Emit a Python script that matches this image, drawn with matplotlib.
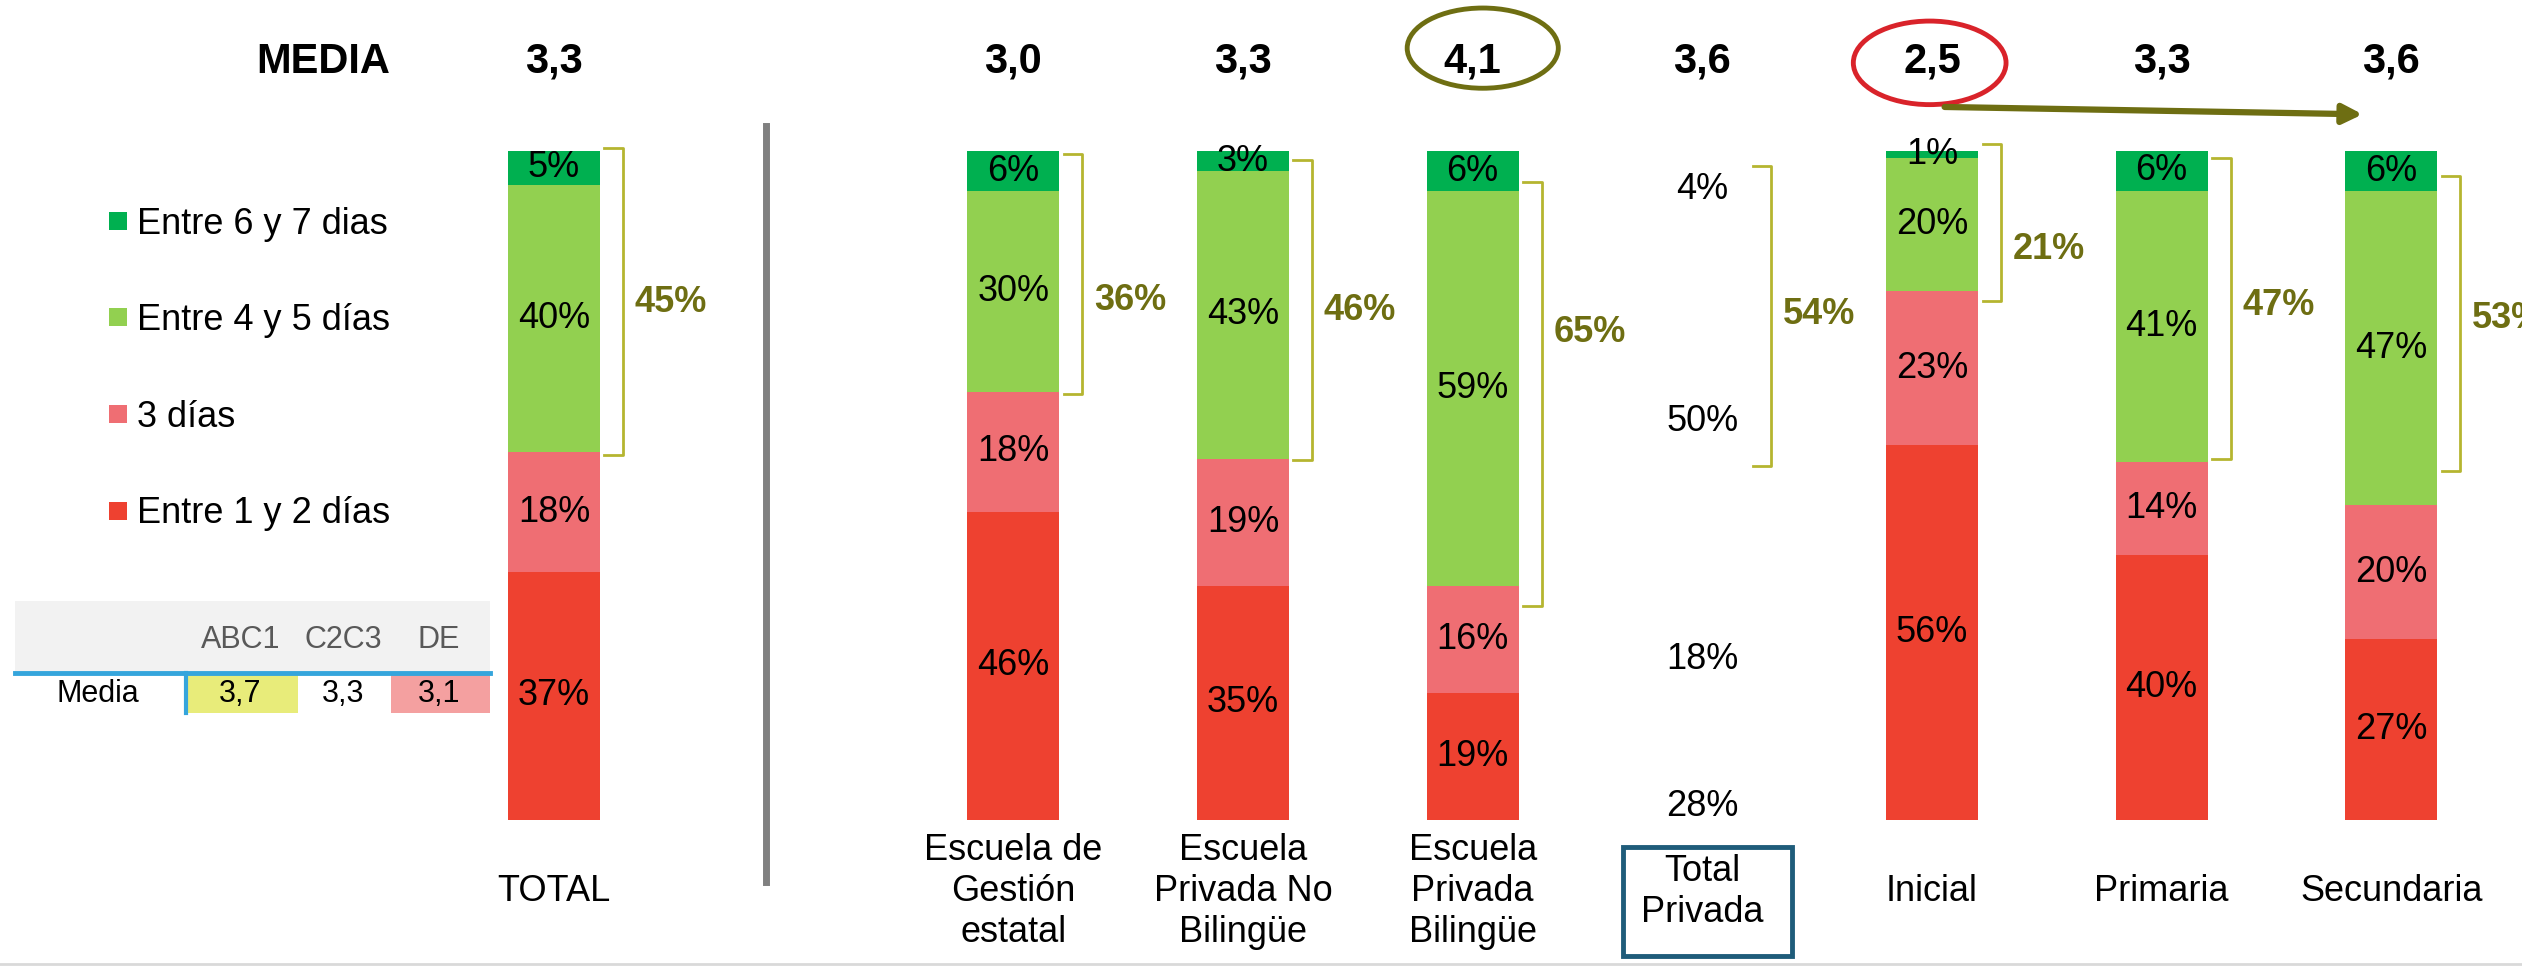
import matplotlib
matplotlib.use('Agg')
import matplotlib.pyplot as plt
from matplotlib.patches import Ellipse, Rectangle
from matplotlib.lines import Line2D

plt.rcParams['font.family'] = ['Liberation Sans', 'DejaVu Sans']

# datos
categorias = ['TOTAL', 'Escuela de\nGestión\nestatal', 'Escuela\nPrivada No\nBilingüe',
              'Escuela\nPrivada\nBilingüe', 'Total\nPrivada', 'Inicial', 'Primaria', 'Secundaria']
medias = ['3,3', '3,0', '3,3', '4,1', '3,6', '2,5', '3,3', '3,6']
series = ['Entre 1 y 2 días', '3 días', 'Entre 4 y 5 días', 'Entre 6 y 7 dias']
dias_1_2 = [37, 46, 35, 19, 28, 56, 40, 27]
dias_3 = [18, 18, 19, 16, 18, 23, 14, 20]
dias_4_5 = [40, 30, 43, 59, 50, 20, 41, 47]
dias_6_7 = [5, 6, 3, 6, 4, 1, 6, 6]
top2 = [45, 36, 46, 65, 54, 21, 47, 53]

nse = ['ABC1', 'C2C3', 'DE']
media_nse = ['3,7', '3,3', '3,1']

# layout
xpos = [0, 2, 3, 4, 5, 6, 7, 8]
sin_barra = 4  # Total Privada: solo etiquetas
y_sin_barra = [1.9, 23.9, 59.6, 94.3]
colores = ['#EE4130', '#EF6E73', '#92D050', '#00B050']
brk_top = [100.5, 99.5, 98.6, 95.4, 97.8, 101, 99, 96.2]
brk_bot = [54.6, 63.7, 53.8, 32, 52.9, 77.6, 54, 52.2]
brk_lab = [77.4, 77.6, 76.2, 72.8, 75.5, 85.3, 76.9, 75]
olive = '#6E6E12'

fig = plt.figure(figsize=(25.22, 9.66), dpi=100)
ax = fig.add_axes([0, 0, 1, 1])
ax.set_xlim(-2.412, 8.569)
ax.set_ylim(-21.9, 122.6)
ax.axis('off')

valores = [dias_1_2, dias_3, dias_4_5, dias_6_7]
# cada barra se escala a 100% (los valores estan redondeados)
totales = [sum(v[i] for v in valores) for i in range(len(xpos))]
idx = [i for i in range(len(xpos)) if i != sin_barra]
base = [0.0] * len(xpos)
for s, vals in enumerate(valores):
    alto = [vals[i] * 100 / totales[i] for i in range(len(xpos))]
    ax.bar([xpos[i] for i in idx], [alto[i] for i in idx], width=0.4,
           bottom=[base[i] for i in idx], color=colores[s], linewidth=0)
    for i in range(len(xpos)):
        if i == sin_barra:
            ax.text(xpos[i], y_sin_barra[s], f'{vals[i]}%', ha='center', va='center', fontsize=26)
        else:
            ax.text(xpos[i], base[i] + alto[i] / 2, f'{vals[i]}%', ha='center', va='center', fontsize=26)
        base[i] += alto[i]

# llaves con top 2
for i in range(len(xpos)):
    x0 = xpos[i] + 0.22
    x1 = x0 + 0.08
    ax.plot([x0, x1, x1, x0], [brk_top[i], brk_top[i], brk_bot[i], brk_bot[i]],
            color='#B5B530', lw=2, solid_joinstyle='round')
    ax.text(xpos[i] + 0.51, brk_lab[i], f'{top2[i]}%', ha='center', va='center',
            fontsize=26, fontweight='bold', color=olive)

# medias
ax.text(-1.004, 111.7, 'MEDIA', ha='center', va='baseline', fontsize=30, fontweight='bold')
for i in range(len(xpos)):
    ax.text(xpos[i], 111.7, medias[i], ha='center', va='baseline', fontsize=30, fontweight='bold')
ax.add_patch(Ellipse((4.044, 115.4), 0.658, 12, fill=False, ec=olive, lw=3.5))
ax.add_patch(Ellipse((5.99, 113.2), 0.665, 12.5, fill=False, ec='#D9232A', lw=3.5))
ax.annotate('', xy=(7.875, 105.5), xytext=(6.055, 106.6),
            arrowprops=dict(arrowstyle='-|>', color=olive, lw=4.5, mutation_scale=29,
                            shrinkA=0, shrinkB=0))

# categorias
for i in range(len(xpos)):
    ax.text(xpos[i], -10.8, categorias[i], ha='center', va='center', fontsize=26, linespacing=1.22)
ax.add_patch(Rectangle((4.656, -20.4), 0.734, 16.3, fill=False, ec='#1F5C7A', lw=3.5))

# separador
ax.plot([0.925, 0.925], [103.8, -9.4], color='#808080', lw=5)

# leyenda
ley_y = [46.2, 60.6, 75.2, 89.5]
for s in range(4):
    ax.scatter(-1.90, ley_y[s], marker='s', s=177, color=colores[s], linewidths=0)
    ax.text(-1.816, ley_y[s] - 1.9, series[s], ha='left', va='baseline', fontsize=26)

# tabla NSE
ax.add_patch(Rectangle((-2.345, 21.9), 2.068, 10.8, color='#F2F2F2', lw=0))
ax.add_patch(Rectangle((-1.60, 15.9), 0.484, 6.0, color='#E8EC7A', lw=0))
ax.add_patch(Rectangle((-0.71, 15.9), 0.433, 6.0, color='#F4A0A0', lw=0))
ax.plot([-2.345, -0.277], [21.9, 21.9], color='#35A5DC', lw=3.5)
ax.plot([-1.60, -1.60], [21.9, 15.9], color='#35A5DC', lw=3)
tab_x = [-1.366, -0.917, -0.5]
for k in range(3):
    ax.text(tab_x[k], 26.9, nse[k], ha='center', va='center', fontsize=22, color='#595959')
    ax.text(tab_x[k], 18.75, media_nse[k], ha='center', va='center', fontsize=22)
ax.text(-1.984, 18.75, 'Media', ha='center', va='center', fontsize=22)

fig.add_artist(Line2D([0, 1], [0.002, 0.002], color='#D9D9D9', lw=2))

fig.savefig('out.png', dpi=100)
